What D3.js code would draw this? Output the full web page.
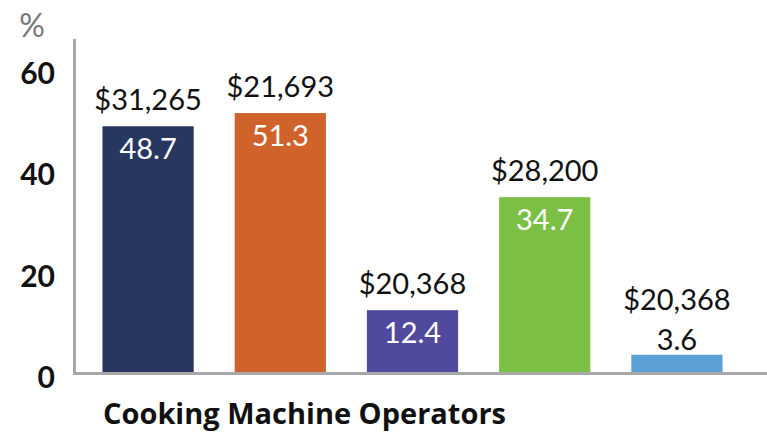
<!DOCTYPE html>
<html>
<head>
<meta charset="utf-8">
<script src="https://cdn.jsdelivr.net/npm/d3@7"></script>
<style>
  html, body { margin: 0; padding: 0; background: #fff; }
  svg text { font-family: Lato, "Open Sans", sans-serif; }
</style>
</head>
<body>
<div id="chart"></div>
<script>
// data
const groups = ['g1', 'g2', 'g3', 'g4', 'g5'];
const shares = [48.7, 51.3, 12.4, 34.7, 3.6];
const wages = [31265, 21693, 20368, 28200, 20368];
const yTicks = [0, 20, 40, 60];
const title = 'Cooking Machine Operators';

const barColors = ['#27375f', '#d0632c', '#4f4a9e', '#7bbf45', '#5ca1d6'];

const width = 767;
const height = 435;

const svg = d3.select('#chart')
  .append('svg')
  .attr('width', width)
  .attr('height', height);

const x = d3.scaleBand()
  .domain(groups)
  .range([80, 745])
  .paddingInner(0.31)
  .paddingOuter(0.17);

const y = d3.scaleLinear()
  .domain([0, 60])
  .range([373, 69]);

const money = d3.format('$,');

// bars
svg.selectAll('rect.bar')
  .data(groups)
  .enter()
  .append('rect')
  .attr('class', 'bar')
  .attr('x', d => x(d))
  .attr('y', (d, i) => y(shares[i]))
  .attr('width', x.bandwidth())
  .attr('height', (d, i) => y(0) - y(shares[i]))
  .attr('fill', (d, i) => barColors[i]);

// axes lines
svg.append('line')
  .attr('x1', 74.5).attr('x2', 74.5)
  .attr('y1', 39).attr('y2', 375)
  .attr('stroke', '#a8a8ab')
  .attr('stroke-width', 3);

svg.append('line')
  .attr('x1', 73).attr('x2', width)
  .attr('y1', 373.5).attr('y2', 373.5)
  .attr('stroke', '#a8a8ab')
  .attr('stroke-width', 3);

// y tick labels
svg.selectAll('text.ytick')
  .data(yTicks)
  .enter()
  .append('text')
  .attr('class', 'ytick')
  .attr('x', 55)
  .attr('y', d => y(d) + 15)
  .attr('text-anchor', 'end')
  .style('font-size', '30px')
  .style('font-weight', 'bold')
  .style('fill', '#111')
  .text(d => d);

svg.append('text')
  .attr('x', 32)
  .attr('y', 37)
  .attr('text-anchor', 'middle')
  .style('font-size', '32px')
  .style('fill', '#777')
  .text('%');

// value labels: inside the bar when it is tall enough, else above it
const inside = v => y(0) - y(v) > 40;

svg.selectAll('text.share')
  .data(groups)
  .enter()
  .append('text')
  .attr('class', 'share')
  .attr('x', d => x(d) + x.bandwidth() / 2)
  .attr('y', (d, i) => inside(shares[i]) ? y(shares[i]) + 33 : y(shares[i]) - 5)
  .attr('text-anchor', 'middle')
  .style('font-size', '29px')
  .style('fill', (d, i) => inside(shares[i]) ? '#fff' : '#111')
  .text((d, i) => shares[i]);

svg.selectAll('text.wage')
  .data(groups)
  .enter()
  .append('text')
  .attr('class', 'wage')
  .attr('x', d => x(d) + x.bandwidth() / 2)
  .attr('y', (d, i) => inside(shares[i]) ? y(shares[i]) - 16 : y(shares[i]) - 45)
  .attr('text-anchor', 'middle')
  .style('font-size', '29px')
  .style('fill', '#111')
  .text((d, i) => money(wages[i]));

// category title
svg.append('text')
  .attr('x', 103)
  .attr('y', 424)
  .style('font-family', '"Open Sans", sans-serif')
  .style('font-size', '29px')
  .style('font-weight', 'bold')
  .style('fill', '#111')
  .text(title);
</script>
</body>
</html>
